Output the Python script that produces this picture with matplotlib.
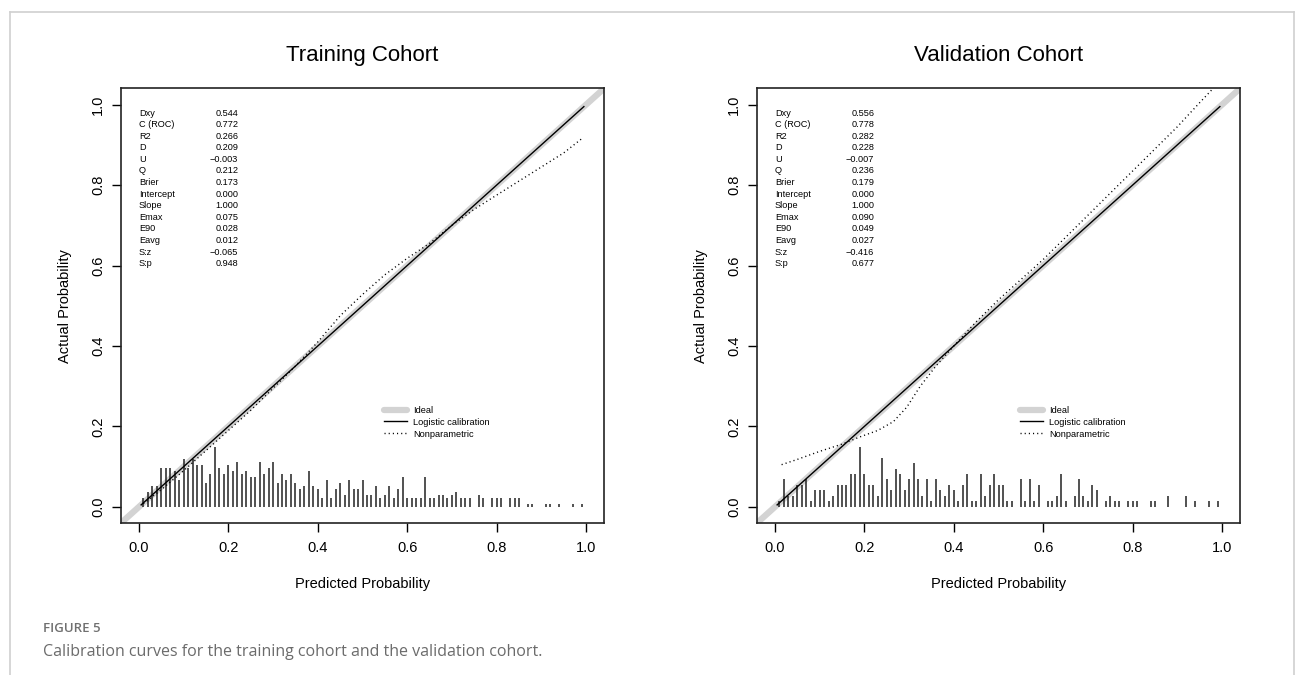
import matplotlib
matplotlib.use("Agg")
import matplotlib.pyplot as plt
from matplotlib.lines import Line2D
import numpy as np

plt.rcParams['font.family'] = ['Liberation Sans', 'DejaVu Sans']

# summary statistics printed in the upper left of each panel
stat_names = ["Dxy", "C (ROC)", "R2", "D", "U", "Q", "Brier", "Intercept",
              "Slope", "Emax", "E90", "Eavg", "S:z", "S:p"]
train_stats = [0.544, 0.772, 0.266, 0.209, -0.003, 0.212, 0.173, 0.000,
               1.000, 0.075, 0.028, 0.012, -0.065, 0.948]
val_stats = [0.556, 0.778, 0.282, 0.228, -0.007, 0.236, 0.179, 0.000,
             1.000, 0.090, 0.049, 0.027, -0.416, 0.677]

# spike histogram of predicted probabilities (bins 0.01 .. 0.99)
spike_bins = np.arange(1, 100) / 100
train_counts = [3, 5, 7, 7, 13, 13, 13, 12, 9, 16,
                13, 16, 14, 14, 8, 11, 20, 13, 11, 14,
                12, 15, 11, 12, 10, 10, 15, 11, 13, 15,
                8, 11, 9, 11, 8, 6, 7, 12, 7, 6,
                3, 9, 3, 6, 8, 4, 9, 6, 6, 9,
                4, 4, 7, 3, 4, 7, 3, 6, 10, 3,
                3, 3, 3, 10, 3, 3, 4, 4, 3, 4,
                5, 3, 3, 3, 0, 4, 3, 0, 3, 3,
                3, 0, 3, 3, 3, 0, 1, 1, 0, 0,
                1, 1, 0, 1, 0, 0, 1, 0, 1]
val_counts = [1, 5, 2, 2, 4, 4, 5, 1, 3, 3,
              3, 1, 2, 4, 4, 4, 6, 6, 11, 6,
              4, 4, 2, 9, 5, 3, 7, 6, 3, 5,
              8, 5, 2, 5, 1, 5, 3, 2, 4, 3,
              1, 4, 6, 1, 1, 6, 2, 4, 6, 4,
              4, 1, 1, 0, 5, 1, 5, 1, 4, 0,
              1, 1, 2, 6, 1, 0, 2, 5, 2, 1,
              4, 3, 0, 1, 2, 1, 1, 0, 1, 1,
              1, 0, 0, 1, 1, 0, 0, 2, 0, 0,
              0, 2, 0, 1, 0, 0, 1, 0, 1]

# logistic calibration (intercept 0, slope 1) over the range of predictions
train_logit_x = [0.005, 0.995]
train_logit_y = [0.005, 0.995]
val_logit_x = [0.005, 0.995]
val_logit_y = [0.005, 0.995]

# nonparametric (loess) calibration curves
train_np_x = [0.01, 0.05, 0.10, 0.15, 0.20, 0.25, 0.30, 0.35, 0.40, 0.45, 0.50,
              0.55, 0.60, 0.65, 0.70, 0.75, 0.80, 0.85, 0.90, 0.95, 0.99]
train_np_y = [0.008, 0.043, 0.090, 0.140, 0.190, 0.240, 0.295, 0.350, 0.410, 0.475, 0.528,
              0.577, 0.618, 0.655, 0.700, 0.740, 0.775, 0.810, 0.845, 0.880, 0.915]
val_np_x = [0.015, 0.05, 0.10, 0.15, 0.19, 0.23, 0.265, 0.295, 0.325, 0.36, 0.40, 0.45,
            0.50, 0.55, 0.60, 0.65, 0.70, 0.75, 0.80, 0.85, 0.90, 0.95, 0.978]
val_np_y = [0.105, 0.118, 0.138, 0.156, 0.174, 0.190, 0.212, 0.248, 0.300, 0.350, 0.400, 0.460,
            0.515, 0.565, 0.615, 0.670, 0.725, 0.780, 0.835, 0.890, 0.945, 1.005, 1.038]

ticks = [0.0, 0.2, 0.4, 0.6, 0.8, 1.0]


def fmt(v):
    return "{0:.3f}".format(v).replace("-", "\u2212")


def panel(ax, title, stats, counts, lx, ly, nx, ny):
    ideal = ax.axline((0, 0), (1, 1), color="#d3d3d3", lw=4.5,
                      solid_capstyle="round", zorder=2)
    counts = np.array(counts, dtype=float)
    h = counts / counts.max() * 0.15
    keep = counts > 0
    ax.vlines(spike_bins[keep], 0, h[keep], color="#222222", lw=1.1, zorder=2.5)
    logit, = ax.plot(lx, ly, color="black", lw=1.0, zorder=3)
    nonpar, = ax.plot(nx, ny, color="black", lw=1.0, linestyle=(0, (0.8, 2.2)), zorder=3)

    for k, (name, v) in enumerate(zip(stat_names, stats)):
        y = 0.979 - k * 0.0288
        ax.text(0.0, y, name, fontsize=6.6, ha="left", va="center")
        ax.text(0.222, y, fmt(v), fontsize=6.6, ha="right", va="center")

    ax.legend([ideal, logit, nonpar], ["Ideal", "Logistic calibration", "Nonparametric"],
              loc="upper left", bbox_to_anchor=(0.547, 0.251), bbox_transform=ax.transData,
              frameon=False, fontsize=6.7, handlelength=2.5, handletextpad=0.7,
              labelspacing=0.3, borderpad=0, borderaxespad=0)

    ax.set_xlim(-0.04, 1.04)
    ax.set_ylim(-0.04, 1.04)
    ax.set_xticks(ticks)
    ax.set_yticks(ticks)
    ax.set_xticklabels(["{0:.1f}".format(t) for t in ticks])
    ax.set_yticklabels(["{0:.1f}".format(t) for t in ticks])
    ax.tick_params(direction="out", length=6.8, width=1.0, labelsize=10.5)
    ax.tick_params(axis="x", pad=6)
    ax.tick_params(axis="y", pad=4.5, labelrotation=90)
    for lab in ax.get_yticklabels():
        lab.set_va("center")
    for s in ax.spines.values():
        s.set_linewidth(1.2)
        s.set_color("#222222")
    ax.set_title(title, fontsize=16, pad=20)
    ax.set_xlabel("Predicted Probability", fontsize=10.5)
    ax.set_ylabel("Actual Probability", fontsize=10.5)
    ax.xaxis.set_label_coords(0.5, -0.125)
    ax.yaxis.set_label_coords(-0.102, 0.5)


fig = plt.figure(figsize=(12.95, 6.75), dpi=100)
ax1 = fig.add_axes([0.09344, 0.22519, 0.37297, 0.64370])
ax2 = fig.add_axes([0.58456, 0.22519, 0.37297, 0.64370])

panel(ax1, "Training Cohort", train_stats, train_counts,
      train_logit_x, train_logit_y, train_np_x, train_np_y)
panel(ax2, "Validation Cohort", val_stats, val_counts,
      val_logit_x, val_logit_y, val_np_x, val_np_y)

# light frame around the figure panel
frame = dict(color="#d0d0d0", lw=1.2, transform=fig.transFigure)
fig.add_artist(Line2D([10 / 1295, 1293.5 / 1295], [1 - 11.7 / 675, 1 - 11.7 / 675], **frame))
fig.add_artist(Line2D([10 / 1295, 10 / 1295], [0, 1 - 11.7 / 675], **frame))
fig.add_artist(Line2D([1293.5 / 1295, 1293.5 / 1295], [0, 1 - 11.7 / 675], **frame))

fig.text(43 / 1295, 1 - 628 / 675, "FIGURE 5", fontsize=9.5, color="#707070",
         family=["Open Sans", "DejaVu Sans"], fontweight="semibold", va="center")
fig.text(43 / 1295, 1 - 652 / 675,
         "Calibration curves for the training cohort and the validation cohort.",
         fontsize=11.5, color="#6b6b6b", family=["Open Sans", "DejaVu Sans"], va="center")

fig.savefig("out.png", dpi=100)
